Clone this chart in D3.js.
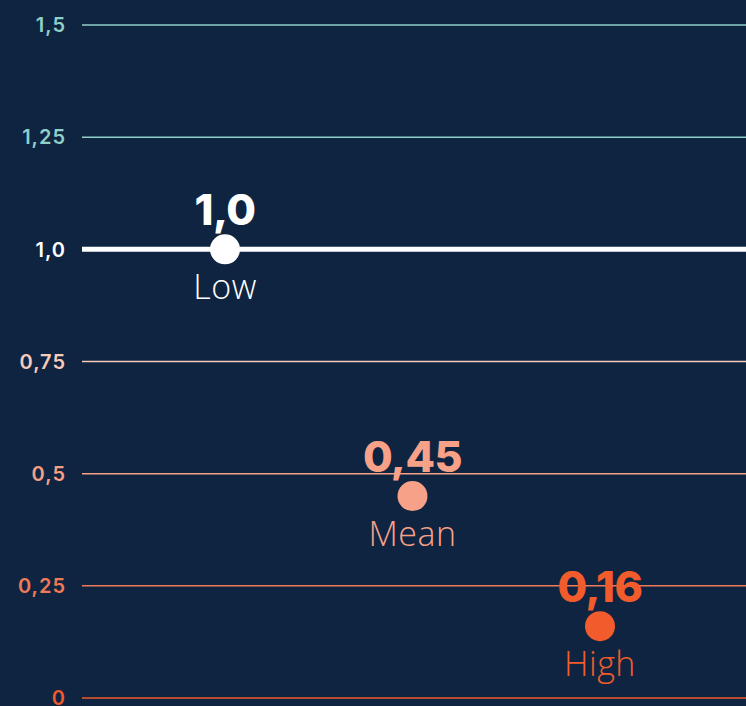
<!DOCTYPE html>
<html>
<head>
<meta charset="utf-8">
<script src="https://cdn.jsdelivr.net/npm/d3@7"></script>
<style>
  html, body { margin: 0; padding: 0; background: #0f2441; }
  svg { display: block; }
</style>
</head>
<body>
<div id="chart"></div>
<script>
// Data
var categories = ["Low", "Mean", "High"];
var values = [1.0, 0.45, 0.16];
var valueLabels = ["1,0", "0,45", "0,16"];
var pointColors = ["#ffffff", "#f7a288", "#f25c2c"];

var ticks = [0, 0.25, 0.5, 0.75, 1.0, 1.25, 1.5];
var tickLabels = ["0", "0,25", "0,5", "0,75", "1,0", "1,25", "1,5"];
var tickColors = ["#ee5a2b", "#f07a57", "#f5a085", "#f6cbbb", "#ffffff", "#8fcfc8", "#8fcfc8"];

var width = 746, height = 706;

var svg = d3.select("#chart").append("svg")
    .attr("width", width)
    .attr("height", height);

svg.append("rect")
    .attr("width", width)
    .attr("height", height)
    .attr("fill", "#0f2441");

var y = d3.scaleLinear().domain([0, 1.5]).range([698, 25]);
var x = d3.scalePoint().domain(categories).range([225, 600]);

// grid lines + tick labels
var grid = svg.append("g").attr("class", "grid");
ticks.forEach(function(t, i) {
    grid.append("line")
        .attr("x1", 82).attr("x2", width)
        .attr("y1", y(t)).attr("y2", y(t))
        .attr("stroke", tickColors[i])
        .attr("stroke-width", t === 1.0 ? 5 : 1.5);
    grid.append("text")
        .attr("x", 66)
        .attr("y", y(t))
        .attr("dy", "0.36em")
        .attr("text-anchor", "end")
        .attr("fill", tickColors[i])
        .attr("font-family", "Inter, 'Open Sans', sans-serif")
        .attr("font-weight", 600)
        .attr("font-size", 20)
        .attr("letter-spacing", 1)
        .text(tickLabels[i]);
});

// points
var pts = svg.selectAll("g.pt")
    .data(categories)
    .enter().append("g")
    .attr("class", "pt")
    .attr("transform", function(d, i) {
        return "translate(" + x(d) + "," + y(values[i]) + ")";
    });

pts.append("circle")
    .attr("r", 15)
    .attr("fill", function(d, i) { return pointColors[i]; });

pts.append("text")
    .attr("y", -24)
    .attr("text-anchor", "middle")
    .attr("fill", function(d, i) { return pointColors[i]; })
    .attr("font-family", "Inter, 'Open Sans', sans-serif")
    .attr("font-weight", 800)
    .attr("font-size", 43)
    .attr("letter-spacing", -0.5)
    .text(function(d, i) { return valueLabels[i]; });

pts.append("text")
    .attr("y", 50)
    .attr("text-anchor", "middle")
    .attr("fill", function(d, i) { return pointColors[i]; })
    .attr("font-family", "'Open Sans', sans-serif")
    .attr("font-weight", 300)
    .attr("font-size", 34)
    .attr("letter-spacing", 0.5)
    .text(function(d) { return d; });
</script>
</body>
</html>
